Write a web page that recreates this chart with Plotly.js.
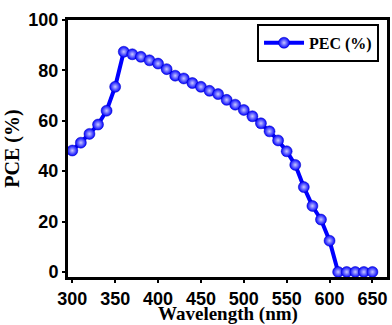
<!DOCTYPE html>
<html><head><meta charset="utf-8">
<script src="https://cdn.plot.ly/plotly-3.0.1.min.js"></script>
<style>body{margin:0;padding:0;background:#fff}#c{width:392px;height:325px}</style>
</head><body><div id="c"></div>
<script>
const wavelength = [300,310,320,330,340,350,360,370,380,390,400,410,420,430,440,450,460,470,480,490,500,510,520,530,540,550,560,570,580,590,600,610,620,630,640,650];
const pce = [48.2,51.3,54.8,58.5,64.0,73.5,87.4,86.4,85.4,84.0,82.7,80.5,77.9,76.8,75.0,73.5,71.9,70.6,68.3,66.4,64.3,61.8,59.0,55.8,52.2,47.9,42.5,33.7,26.2,20.8,12.4,0,0,0,0,0];
const seriesName = 'PEC (%)';
const xTitle = 'Wavelength (nm)';
const yTitle = 'PCE (%)';
const xTicks = [300,350,400,450,500,550,600,650];
const yTicks = [0,20,40,60,80,100];

const tickFont = {family:'Arial', size:18, color:'#000', weight:'bold'};
const titleFont = {family:'Liberation Serif, Times New Roman, serif', size:20, color:'#000', weight:700};
const xTitleFont = {family:'Liberation Serif, Times New Roman, serif', size:19, color:'#000', weight:700};

const trace = {
  x: wavelength, y: pce, name: '<b>' + seriesName + '</b>', type:'scatter', mode:'lines+markers',
  line:{color:'#0000ff', width:4},
  marker:{size:11, color:'#0000ff', gradient:{type:'radial', color:'#c8c8ff'}, line:{width:0.5, color:'#0000c0'}}
};
const layout = {
  width:392, height:325,
  margin:{l:68, r:5, t:20, b:48},
  paper_bgcolor:'#fff', plot_bgcolor:'#fff',
  showlegend:true,
  legend:{x:0.975, y:0.985, xanchor:'right', yanchor:'top', bgcolor:'#fff', bordercolor:'#000', borderwidth:2,
    font:{family:'Liberation Serif, Times New Roman, serif', size:16, color:'#000', weight:700},
    itemwidth:40, tracegroupgap:0},
  xaxis:{range:[295,667], tickvals:xTicks, ticktext:xTicks.map(v => '<b>' + v + '</b>'), showgrid:false, zeroline:false,
    showline:true, linewidth:3, linecolor:'#000', mirror:true, ticks:'outside', ticklen:3, tickwidth:2, tickcolor:'#000',
    tickfont:tickFont},
  yaxis:{range:[-2,100], tickvals:yTicks, ticktext:yTicks.map(v => '<b>' + v + '</b>'), showgrid:false, zeroline:false,
    showline:true, linewidth:3, linecolor:'#000', mirror:true, ticks:'outside', ticklen:3, tickwidth:2, tickcolor:'#000',
    tickfont:tickFont, title:{text:'<b>' + yTitle + '</b>', font:titleFont, standoff:4}},
  annotations:[{text:'<b>' + xTitle + '</b>', xref:'paper', yref:'paper', x:0.5, y:-0.145, xanchor:'center', yanchor:'middle',
    showarrow:false, font:xTitleFont}]
};
Plotly.newPlot('c', [trace], layout, {displayModeBar:false, staticPlot:true});
</script></body></html>
